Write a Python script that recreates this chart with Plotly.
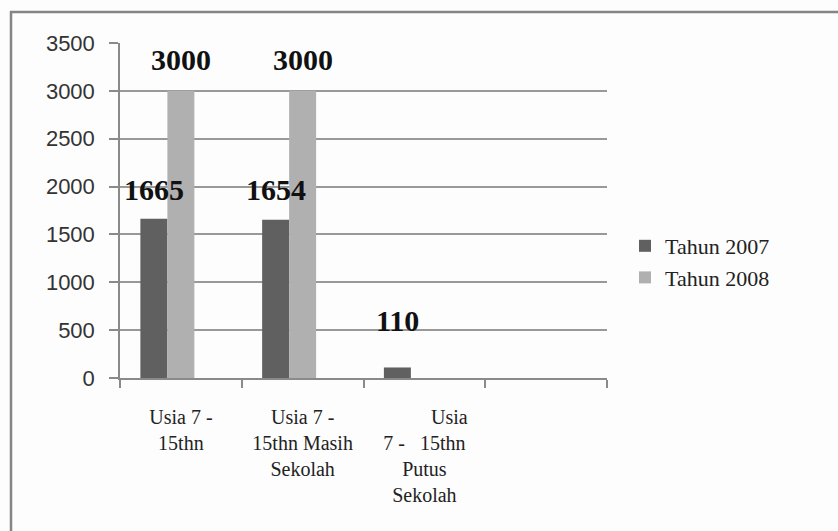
import plotly.graph_objects as go

categories = [
    "Usia 7 -<br>15thn",
    "Usia 7 -<br>15thn Masih<br>Sekolah",
    "&nbsp;&nbsp;&nbsp;&nbsp;&nbsp;&nbsp;&nbsp;&nbsp;&nbsp;&nbsp;Usia<br>7 -&nbsp;&nbsp;&nbsp;15thn<br>Putus<br>Sekolah",
    " ",
]
series_names = ["Tahun 2007", "Tahun 2008"]
values_2007 = [1665, 1654, 110, None]
values_2008 = [3000, 3000, None, None]
empty_series = [None, None, None, None]

# styling
colors = ["#606060", "#b0b0b0"]
label_yshift_2007 = [29, 30, 47, 0]
label_yshift_2008 = [31, 31, 0, 0]
SERIF = "Liberation Serif, Times New Roman, serif"
SANS = "Liberation Sans, Arial, sans-serif"

W, H = 838, 531
L, R, T, B = 120, 231, 43, 153
pw = W - L - R
ph = H - T - B

fig = go.Figure()
fig.add_trace(go.Bar(x=categories, y=values_2007, name=series_names[0],
                     marker=dict(color=colors[0], line=dict(width=0))))
fig.add_trace(go.Bar(x=categories, y=values_2008, name=series_names[1],
                     marker=dict(color=colors[1], line=dict(width=0))))
fig.add_trace(go.Bar(x=categories, y=empty_series, name="", showlegend=False,
                     hoverinfo="skip"))

bar_px = pw / 4 * (1 - 0.335) / 3
label_font = dict(family=SERIF, size=30, color="#111111")
annotations = []
for i, c in enumerate(categories):
    for vals, shift, dx in ((values_2007, label_yshift_2007, -bar_px),
                            (values_2008, label_yshift_2008, 0)):
        v = vals[i]
        if v is None:
            continue
        annotations.append(dict(x=c, y=v, xref="x", yref="y", text="<b>%d</b>" % v,
                                showarrow=False, xshift=dx, yshift=shift[i],
                                yanchor="middle", xanchor="center", font=label_font))

def px2x(px):
    return (px - L) / pw

def py2y(py):
    return (H - B - py) / ph

shapes = [
    dict(type="line", xref="paper", yref="paper", x0=px2x(10), x1=px2x(840),
         y0=py2y(12), y1=py2y(12), line=dict(color="#858585", width=2.5)),
    dict(type="line", xref="paper", yref="paper", x0=px2x(11), x1=px2x(11),
         y0=py2y(11), y1=py2y(535), line=dict(color="#858585", width=2.5)),
]

fig.update_layout(
    width=W, height=H,
    font=dict(family=SERIF, color="#222222"),
    margin=dict(l=L, r=R, t=T, b=B, pad=0),
    paper_bgcolor="#fdfdfd", plot_bgcolor="#fdfdfd",
    barmode="group", bargap=0.335, bargroupgap=0,
    showlegend=True,
    legend=dict(x=px2x(625), y=py2y(262), xanchor="left", yanchor="middle",
                font=dict(family=SERIF, size=22, color="#222222"),
                bgcolor="rgba(0,0,0,0)", tracegroupgap=0, itemwidth=30),
    annotations=annotations,
    shapes=shapes,
    xaxis=dict(
        type="category", tickson="boundaries", ticks="outside", ticklen=8,
        tickcolor="#8a8a8a", tickwidth=1.5, showline=True, linecolor="#8a8a8a",
        linewidth=1.5, showgrid=False, range=[-0.5, 3.5],
        tickfont=dict(family=SERIF, size=20, color="#222222"),
        ticklabelstandoff=20,
    ),
    yaxis=dict(
        range=[0, 3500], dtick=500, tick0=0, ticks="outside", ticklen=9,
        tickcolor="#8a8a8a", tickwidth=1.5, showline=True, linecolor="#8a8a8a",
        linewidth=1.5, showgrid=True, gridcolor="#999999", gridwidth=1.5,
        zeroline=False,
        tickfont=dict(family=SANS, size=22, color="#333333"),
        ticklabelstandoff=10,
    ),
)

fig.write_html("out.html")
